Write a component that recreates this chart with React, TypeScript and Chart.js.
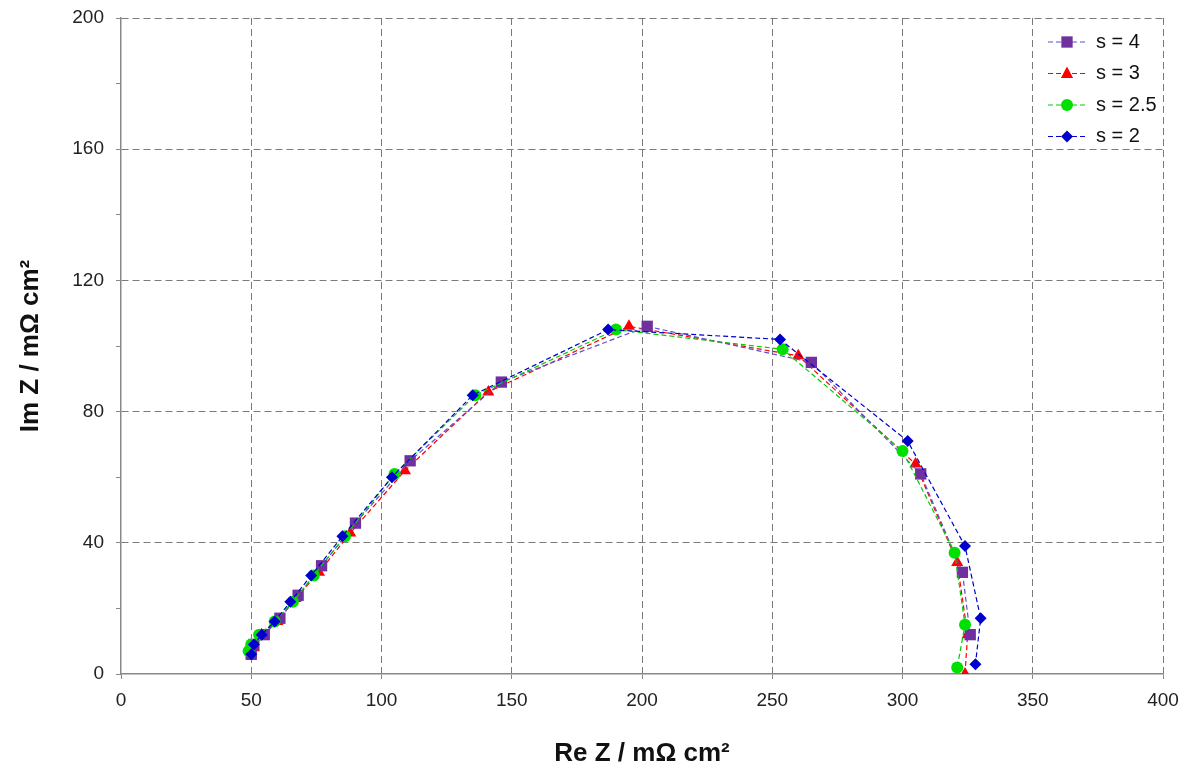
import React, { useEffect, useRef } from "react";
import { Chart, registerables } from "chart.js";

Chart.register(...registerables);

const seriesLabels = ["s = 4", "s = 3", "s = 2.5", "s = 2"];

const s4Re = [50, 51, 55, 61, 68, 77, 90, 111, 146, 202, 265, 307, 323, 326];
const s4Im = [6, 9, 12, 17, 24, 33, 46, 65, 89, 106, 95, 61, 31, 12];

const s3Re = [50, 51, 54, 60, 67, 76, 88, 109, 141, 195, 260, 305, 321, 325, 324];
const s3Im = [6, 8, 12, 16, 23, 31, 43, 62, 86, 106, 97, 64, 34, 12, 0];

const s25Re = [49, 50, 53, 59, 66, 74, 86, 105, 136, 190, 254, 300, 320, 324, 321];
const s25Im = [7, 9, 12, 16, 22, 30, 42, 61, 85, 105, 99, 68, 37, 15, 2];

const s2Re = [50, 51, 54, 59, 65, 73, 85, 104, 135, 187, 253, 302, 324, 330, 328];
const s2Im = [6, 9, 12, 16, 22, 30, 42, 60, 85, 105, 102, 71, 39, 17, 3];

const xTicks = [0, 50, 100, 150, 200, 250, 300, 350, 400];
const yTicks = [0, 40, 80, 120, 160, 200];

const colors = ["#7030A0", "#FF0000", "#00E000", "#0000CC"];
const lineColors = ["#5A4FCF", "#FF0000", "#00CC00", "#0000CC"];
const pointStyles = ["rect", "triangle", "circle", "rectRot"];
const pointRadii = [8, 7, 6, 6];
const drawOrder = [2, 3, 1, 0];

const FONT = "'Liberation Sans', Arial, sans-serif";

const toPoints = (xs: number[], ys: number[]) => xs.map((x, i) => ({ x, y: ys[i] }));

const legendPlugin = {
  id: "customLegend",
  afterDraw(chart: any) {
    const ctx = chart.ctx;
    const x0 = 1048;
    const yStart = 42;
    const step = 31.5;
    ctx.save();
    seriesLabels.forEach((label, i) => {
      const y = yStart + i * step;
      ctx.strokeStyle = lineColors[i];
      ctx.lineWidth = 1.2;
      ctx.setLineDash([5, 3]);
      ctx.beginPath();
      ctx.moveTo(x0, y);
      ctx.lineTo(x0 + 38, y);
      ctx.stroke();
      ctx.setLineDash([]);
      ctx.fillStyle = colors[i];
      const r = pointRadii[i];
      const cx = x0 + 19;
      ctx.beginPath();
      if (pointStyles[i] === "rect") {
        const s = r * Math.SQRT2;
        ctx.rect(cx - s / 2, y - s / 2, s, s);
      } else if (pointStyles[i] === "triangle") {
        ctx.moveTo(cx, y - r);
        ctx.lineTo(cx + r * 0.87, y + r * 0.5 + 1);
        ctx.lineTo(cx - r * 0.87, y + r * 0.5 + 1);
        ctx.closePath();
      } else if (pointStyles[i] === "circle") {
        ctx.arc(cx, y, r, 0, Math.PI * 2);
      } else {
        ctx.moveTo(cx, y - r);
        ctx.lineTo(cx + r, y);
        ctx.lineTo(cx, y + r);
        ctx.lineTo(cx - r, y);
        ctx.closePath();
      }
      ctx.fill();
      ctx.fillStyle = "#111";
      ctx.font = "20px " + FONT;
      ctx.textBaseline = "middle";
      ctx.textAlign = "left";
      ctx.fillText(label, x0 + 48, y);
    });
    ctx.restore();
  },
};

export default function App() {
  const ref = useRef<HTMLCanvasElement | null>(null);

  useEffect(() => {
    if (!ref.current) return;
    const dataSets = [
      toPoints(s4Re, s4Im),
      toPoints(s3Re, s3Im),
      toPoints(s25Re, s25Im),
      toPoints(s2Re, s2Im),
    ];
    const chart = new Chart(ref.current, {
      type: "scatter",
      data: {
        datasets: dataSets.map((d, i) => ({
          label: seriesLabels[i],
          data: d,
          showLine: true,
          borderColor: lineColors[i],
          borderWidth: 1.2,
          borderDash: [5, 3],
          backgroundColor: colors[i],
          pointBackgroundColor: colors[i],
          pointBorderColor: colors[i],
          pointBorderWidth: 0,
          pointStyle: pointStyles[i] as any,
          pointRadius: pointRadii[i],
          order: drawOrder[i],
          tension: 0,
        })),
      },
      options: {
        animation: false,
        responsive: true,
        maintainAspectRatio: false,
        layout: { padding: { left: 0, top: 18, right: 30, bottom: 0 } },
        plugins: {
          legend: { display: false },
          tooltip: { enabled: false },
        },
        scales: {
          x: {
            type: "linear",
            min: 0,
            max: 400,
            afterBuildTicks: (s: any) => {
              s.ticks = xTicks.map((v) => ({ value: v }));
            },
            afterFit: (s: any) => {
              s.height = 100;
              s.paddingLeft = 0;
              s.paddingRight = 0;
            },
            border: { display: true, color: "#888888", width: 1.5, dash: [7, 4] },
            grid: {
              color: (c: any) => (c.tick && c.tick.value === 0 ? "rgba(0,0,0,0)" : "#7a7a7a"),
              lineWidth: 1,
              tickColor: "#888888",
              tickLength: 5,
              tickBorderDash: [],
            },
            ticks: {
              color: "#222",
              font: { family: FONT, size: 19 },
              padding: 10,
              maxRotation: 0,
            },
            title: {
              display: true,
              text: "Re Z / mΩ cm²",
              color: "#111",
              font: { family: FONT, size: 26, weight: "bold" },
              padding: { top: 12, bottom: 5 },
            },
          },
          y: {
            type: "linear",
            min: 0,
            max: 200,
            afterBuildTicks: (s: any) => {
              const t = [];
              for (let v = 0; v <= 200; v += 20) t.push({ value: v });
              s.ticks = t;
            },
            afterFit: (s: any) => {
              s.width = 121;
              s.paddingTop = 0;
              s.paddingBottom = 0;
            },
            border: { display: true, color: "#888888", width: 1.5, dash: [7, 4] },
            grid: {
              color: (c: any) =>
                c.tick && c.tick.value !== 0 && c.tick.value % 40 === 0 ? "#7a7a7a" : "rgba(0,0,0,0)",
              lineWidth: 1,
              tickColor: "#888888",
              tickLength: 5,
              tickBorderDash: [],
            },
            ticks: {
              color: "#222",
              font: { family: FONT, size: 19 },
              padding: 12,
              callback: (v: any) => (yTicks.includes(Number(v)) ? String(v) : ""),
            },
            title: {
              display: true,
              text: "Im Z / mΩ cm²",
              color: "#111",
              font: { family: FONT, size: 26, weight: "bold" },
              padding: { top: 15, bottom: 0 },
            },
          },
        },
      },
      plugins: [legendPlugin],
    });
    return () => chart.destroy();
  }, []);

  return (
    <div style={{ position: "fixed", left: 0, top: 0, width: 1193, height: 774, background: "#fff" }}>
      <canvas ref={ref} />
    </div>
  );
}
